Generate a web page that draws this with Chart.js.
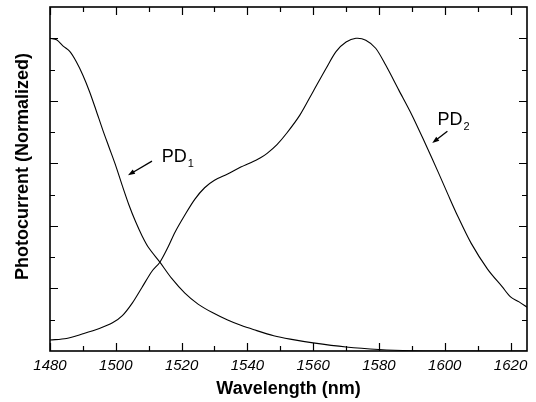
<!DOCTYPE html>
<html lang="en">
<head>
    <meta charset="UTF-8">
    <title>Photocurrent vs Wavelength</title>
    <script src="https://cdn.jsdelivr.net/npm/chart.js@4.4.1/dist/chart.umd.min.js"></script>
    <style>
        html, body { margin: 0; padding: 0; background: #fff; }
        #wrap { width: 536px; height: 402px; }
    </style>
</head>
<body>
    <div id="wrap"><canvas id="chart" width="536" height="402"></canvas></div>
    <script>
        // PD1 (short wavelength detector)
        const pd1Wavelength = [1480, 1482, 1484, 1486, 1488, 1490, 1492, 1494, 1496, 1498,
            1500, 1502, 1504, 1506, 1508, 1510, 1513.4, 1517, 1521, 1525,
            1529.5, 1534, 1538, 1542, 1548, 1553, 1560, 1570, 1580, 1590,
            1600, 1625];
        const pd1Current = [1.0, 0.995, 0.975, 0.958, 0.925, 0.882, 0.83, 0.77, 0.708, 0.65,
            0.592, 0.528, 0.467, 0.414, 0.368, 0.33, 0.284, 0.232, 0.185, 0.15,
            0.122, 0.099, 0.082, 0.068, 0.049, 0.038, 0.026, 0.013, 0.005, 0.001,
            0, 0];

        // PD2 (long wavelength detector)
        const pd2Wavelength = [1480, 1485, 1490, 1495, 1499, 1502, 1505, 1508, 1511, 1513.4,
            1516, 1518, 1521, 1524, 1527, 1530, 1534, 1538, 1541, 1544,
            1546, 1549, 1552, 1556, 1560, 1564, 1567, 1570, 1573, 1576,
            1579, 1582, 1586, 1590, 1594, 1598, 1601, 1604, 1608, 1613,
            1617.5, 1620, 1622.6, 1625];
        const pd2Current = [0.035, 0.04, 0.055, 0.072, 0.09, 0.113, 0.153, 0.204, 0.255, 0.284,
            0.335, 0.38, 0.435, 0.485, 0.522, 0.546, 0.566, 0.588, 0.602, 0.618,
            0.632, 0.66, 0.697, 0.755, 0.83, 0.905, 0.958, 0.988, 1.0, 0.994,
            0.968, 0.915, 0.835, 0.755, 0.665, 0.572, 0.50, 0.43, 0.345, 0.262,
            0.205, 0.173, 0.157, 0.14];

        const xTicks = [1480, 1500, 1520, 1540, 1560, 1580, 1600, 1620];
        const xMinorTicks = [1490, 1510, 1530, 1550, 1570, 1590, 1610];
        const yTicks = [0.2, 0.4, 0.6, 0.8, 1.0];
        const yMinorTicks = [0.1, 0.3, 0.5, 0.7, 0.9];

        // curve labels: text, subscript, anchor (data units), arrow from/to (data units)
        const curveLabels = [
            { text: 'PD', sub: '1', at: [1514.0, 0.604], from: [1511.0, 0.607], to: [1503.7, 0.562] },
            { text: 'PD', sub: '2', at: [1597.8, 0.722], from: [1600.8, 0.703], to: [1596.2, 0.665] }
        ];

        const FONT = "'Liberation Sans', Arial, sans-serif";

        function toPoints(xs, ys) {
            return xs.map((v, i) => ({ x: v, y: ys[i] }));
        }

        const framePlugin = {
            id: 'frame',
            afterDraw(chart) {
                const { ctx, chartArea: a, scales: { x, y } } = chart;
                ctx.save();
                ctx.strokeStyle = '#000';
                ctx.lineWidth = 1.2;
                ctx.beginPath();
                const tick = (px1, py1, px2, py2) => { ctx.moveTo(px1, py1); ctx.lineTo(px2, py2); };
                xTicks.forEach(v => {
                    const px = Math.round(x.getPixelForValue(v)) + 0.5;
                    tick(px, a.bottom, px, a.bottom - 8);
                    tick(px, a.top, px, a.top + 8);
                });
                xMinorTicks.forEach(v => {
                    const px = Math.round(x.getPixelForValue(v)) + 0.5;
                    tick(px, a.bottom, px, a.bottom - 5);
                    tick(px, a.top, px, a.top + 5);
                });
                yTicks.forEach(v => {
                    const py = Math.round(y.getPixelForValue(v)) + 0.5;
                    tick(a.left, py, a.left + 8, py);
                    tick(a.right, py, a.right - 8, py);
                });
                yMinorTicks.forEach(v => {
                    const py = Math.round(y.getPixelForValue(v)) + 0.5;
                    tick(a.left, py, a.left + 5, py);
                    tick(a.right, py, a.right - 5, py);
                });
                ctx.stroke();

                // frame
                ctx.lineWidth = 1.6;
                ctx.strokeRect(a.left, a.top, a.right - a.left, a.bottom - a.top);

                // curve labels with arrows
                ctx.fillStyle = '#000';
                ctx.textBaseline = 'alphabetic';
                curveLabels.forEach(l => {
                    const lx = x.getPixelForValue(l.at[0]);
                    const ly = y.getPixelForValue(l.at[1]);
                    ctx.font = '18px ' + FONT;
                    ctx.fillText(l.text, lx, ly);
                    const w = ctx.measureText(l.text).width;
                    ctx.font = '11px ' + FONT;
                    ctx.fillText(l.sub, lx + w + 1, ly + 5);

                    const x1 = x.getPixelForValue(l.from[0]), y1 = y.getPixelForValue(l.from[1]);
                    const x2 = x.getPixelForValue(l.to[0]), y2 = y.getPixelForValue(l.to[1]);
                    const ang = Math.atan2(y2 - y1, x2 - x1);
                    ctx.lineWidth = 1.3;
                    ctx.beginPath();
                    ctx.moveTo(x1, y1);
                    ctx.lineTo(x2 - 4 * Math.cos(ang), y2 - 4 * Math.sin(ang));
                    ctx.stroke();
                    ctx.beginPath();
                    ctx.moveTo(x2, y2);
                    ctx.lineTo(x2 - 7 * Math.cos(ang) + 2.5 * Math.sin(ang), y2 - 7 * Math.sin(ang) - 2.5 * Math.cos(ang));
                    ctx.lineTo(x2 - 7 * Math.cos(ang) - 2.5 * Math.sin(ang), y2 - 7 * Math.sin(ang) + 2.5 * Math.cos(ang));
                    ctx.closePath();
                    ctx.fill();
                });
                ctx.restore();
            }
        };

        const lineStyle = {
            borderColor: '#000',
            borderWidth: 1.1,
            pointRadius: 0,
            fill: false,
            tension: 0.3
        };

        new Chart(document.getElementById('chart'), {
            type: 'line',
            data: {
                datasets: [
                    Object.assign({ label: 'PD1', data: toPoints(pd1Wavelength, pd1Current) }, lineStyle),
                    Object.assign({ label: 'PD2', data: toPoints(pd2Wavelength, pd2Current) }, lineStyle)
                ]
            },
            options: {
                responsive: false,
                animation: false,
                layout: { padding: { top: 7, right: 9, left: 0, bottom: 0 } },
                plugins: {
                    legend: { display: false },
                    tooltip: { enabled: false }
                },
                scales: {
                    x: {
                        type: 'linear',
                        min: 1480,
                        max: 1625,
                        afterBuildTicks: s => { s.ticks = xTicks.map(v => ({ value: v })); },
                        afterFit: s => { s.height = 51; },
                        grid: { display: false, drawTicks: false },
                        border: { display: false },
                        ticks: {
                            padding: 6,
                            color: '#000',
                            maxRotation: 0,
                            callback: v => String(v),
                            font: { family: FONT, size: 15, style: 'italic' }
                        },
                        title: {
                            display: true,
                            text: 'Wavelength (nm)',
                            color: '#000',
                            padding: { top: 0, bottom: 2 },
                            font: { family: FONT, size: 18, weight: 'bold' }
                        }
                    },
                    y: {
                        min: 0,
                        max: 1.1,
                        afterFit: s => { s.width = 50; },
                        grid: { display: false, drawTicks: false },
                        border: { display: false },
                        ticks: { display: false },
                        title: {
                            display: true,
                            text: '     Photocurrent (Normalized)',
                            color: '#000',
                            padding: { top: 12, bottom: 0 },
                            font: { family: FONT, size: 18, weight: 'bold' }
                        }
                    }
                }
            },
            plugins: [framePlugin]
        });
    </script>
</body>
</html>
